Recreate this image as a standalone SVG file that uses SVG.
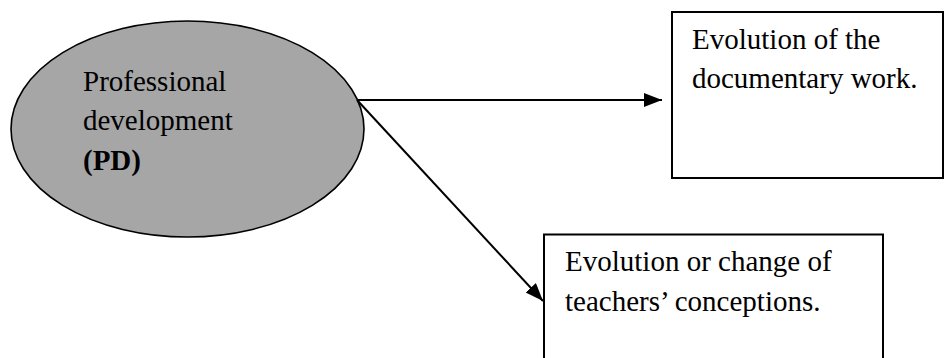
<svg xmlns="http://www.w3.org/2000/svg" width="945" height="358" viewBox="0 0 945 358">
  <style>
    .t { font-family: "Liberation Serif", "Times New Roman", serif; font-size: 29px; fill: #000; }
    .b { font-weight: bold; }
    .box { fill: #fff; stroke: #000; stroke-width: 2; }
    .conn { stroke: #000; stroke-width: 2; fill: none; }
  </style>
  <defs>
    <marker id="arrow" viewBox="0 0 10 10" refX="10" refY="5" markerWidth="9" markerHeight="8" markerUnits="userSpaceOnUse" orient="auto" style="overflow:visible">
      <path d="M0,0 L10,5 L0,10 Z" fill="#000"/>
    </marker>
    <marker id="ah" markerWidth="20" markerHeight="16" refX="18" refY="7" orient="auto" markerUnits="userSpaceOnUse">
      <path d="M0,0 L18,7 L0,14 Z" fill="#000"/>
    </marker>
  </defs>
  <rect width="945" height="358" fill="#fff"/>
  <g id="node-pd">
    <ellipse cx="187.5" cy="129" rx="176.5" ry="108" fill="#a6a6a6" stroke="#000" stroke-width="1.6"/>
    <text class="t" x="83" y="91">Professional</text>
    <text class="t" x="83" y="130">development</text>
    <text class="t b" x="83" y="170">(PD)</text>
  </g>
  <g id="node-doc">
    <rect class="box" x="672" y="12" width="271" height="166"/>
    <text class="t" x="692" y="49">Evolution of the</text>
    <text class="t" x="692" y="88">documentary work.</text>
  </g>
  <g id="node-teach">
    <path class="box" d="M544,362 L544,234.5 L883,234.5 L883,362"/>
    <text class="t" x="565" y="271">Evolution or change of</text>
    <text class="t" x="565" y="311">teachers’ conceptions.</text>
  </g>
  <g id="connectors">
    <line class="conn" x1="357" y1="100" x2="662" y2="100" marker-end="url(#ah)"/>
    <line class="conn" x1="357" y1="100" x2="543" y2="301" marker-end="url(#ah)"/>
  </g>
</svg>
